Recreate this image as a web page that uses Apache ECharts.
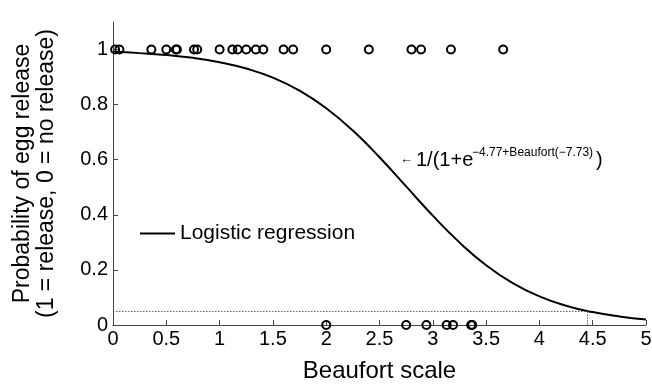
<!DOCTYPE html>
<html>
<head>
<meta charset="utf-8">
<script src="https://cdn.jsdelivr.net/npm/echarts@6/dist/echarts.min.js"></script>
<style>
  html, body { margin: 0; padding: 0; background: #fff; }
  #chart { width: 652px; height: 384px; }
</style>
</head>
<body>
<div id="chart"></div>
<script>
// observations: wind (Beaufort) for each egg release outcome
const releaseX = [0.02, 0.06, 0.36, 0.50, 0.59, 0.60, 0.76, 0.79, 1.0, 1.12, 1.17, 1.25, 1.34, 1.41, 1.60, 1.69, 2.0, 2.40, 2.80, 2.89, 3.17, 3.66];
const noReleaseX = [2.0, 2.75, 2.94, 3.13, 3.19, 3.36, 3.37];

// fitted curve
const curveX = [0, 0.25, 0.5, 0.75, 1.0, 1.25, 1.5, 1.75, 2.0, 2.25, 2.5, 2.75, 3.0, 3.25, 3.5, 3.75, 4.0, 4.25, 4.5, 4.75, 5.0];
const curveY = [0.992, 0.987, 0.98, 0.97, 0.954, 0.931, 0.898, 0.851, 0.787, 0.706, 0.609, 0.503, 0.397, 0.30, 0.217, 0.152, 0.104, 0.07, 0.047, 0.031, 0.02];

// 5% cutoff guide
const cutoffY = 0.05;
const cutoffX = 4.45;

const xTicks = [0, 0.5, 1, 1.5, 2, 2.5, 3, 3.5, 4, 4.5, 5];
const yTicks = [0, 0.2, 0.4, 0.6, 0.8, 1];

const font = 'Liberation Sans, Arial, Helvetica, sans-serif';
const chart = echarts.init(document.getElementById('chart'));

const option = {
  animation: false,
  textStyle: { fontFamily: font },
  grid: { left: 113, right: 6, top: 22, bottom: 59, containLabel: false, outerBoundsMode: 'none' },
  legend: {
    data: ['Logistic regression'],
    left: 135,
    top: 218,
    icon: 'rect',
    itemWidth: 35,
    itemHeight: 2,
    itemGap: 8,
    textStyle: { fontSize: 21, color: '#000', fontFamily: font }
  },
  xAxis: {
    type: 'value',
    min: 0,
    max: 5,
    interval: 0.5,
    name: 'Beaufort scale',
    nameLocation: 'middle',
    nameGap: 34,
    nameTextStyle: { fontSize: 24, color: '#000', fontFamily: font },
    axisLine: { lineStyle: { color: '#444', width: 1 } },
    axisTick: { inside: true, length: 5, lineStyle: { color: '#444' } },
    axisLabel: {
      fontSize: 20, color: '#000', margin: 4,
      formatter: v => xTicks.includes(+v.toFixed(2)) ? String(+v.toFixed(2)) : ''
    },
    splitLine: { show: false }
  },
  yAxis: {
    type: 'value',
    min: 0,
    max: 1.1,
    interval: 0.2,
    name: 'Probability of egg release\n(1 = release, 0 = no release)',
    nameLocation: 'middle',
    nameGap: 54,
    nameTextStyle: { fontSize: 23, color: '#000', lineHeight: 24, fontFamily: font },
    axisLine: { lineStyle: { color: '#444', width: 1 } },
    axisTick: {
      inside: true, length: 5, lineStyle: { color: '#444' },
      customValues: yTicks
    },
    axisLabel: {
      fontSize: 20, color: '#000', margin: 5,
      customValues: yTicks,
      formatter: v => String(+v.toFixed(1))
    },
    splitLine: { show: false }
  },
  graphic: [
    { type: 'text', left: 400, top: 153, style: { text: '←', fontSize: 13, fill: '#000', fontFamily: font } },
    { type: 'text', left: 416, top: 150, style: { text: '1/(1+e', fontSize: 20, fill: '#000', fontFamily: font } },
    { type: 'text', left: 472, top: 147, style: { text: '−4.77+Beaufort(−7.73)', fontSize: 12, fill: '#000', fontFamily: font } },
    { type: 'text', left: 596, top: 150, style: { text: ')', fontSize: 20, fill: '#000', fontFamily: font } }
  ],
  series: [
    {
      name: 'cutoff',
      type: 'line',
      data: [],
      silent: true,
      markLine: {
        silent: true,
        symbol: 'none',
        label: { show: false },
        lineStyle: { color: '#666', width: 1, type: [1.5, 1.5] },
        data: [
          [{ coord: [0, cutoffY] }, { coord: [cutoffX, cutoffY] }],
          [{ coord: [cutoffX, cutoffY] }, { coord: [cutoffX, 0] }]
        ]
      }
    },
    {
      name: 'Logistic regression',
      type: 'line',
      data: curveX.map((x, i) => [x, curveY[i]]),
      smooth: true,
      showSymbol: false,
      lineStyle: { color: '#000', width: 2 },
      itemStyle: { color: '#000' },
      z: 3
    },
    {
      name: 'release',
      type: 'scatter',
      data: releaseX.map(x => [x, 1]),
      symbol: 'circle',
      symbolSize: 8,
      itemStyle: { color: 'rgba(255,255,255,0)', borderColor: '#000', borderWidth: 2, opacity: 1 },
      z: 4
    },
    {
      name: 'no release',
      type: 'scatter',
      data: noReleaseX.map(x => [x, 0]),
      symbol: 'circle',
      symbolSize: 8,
      clip: false,
      itemStyle: { color: 'rgba(255,255,255,0)', borderColor: '#000', borderWidth: 2, opacity: 1 },
      z: 4
    }
  ]
};

chart.setOption(option);
</script>
</body>
</html>
